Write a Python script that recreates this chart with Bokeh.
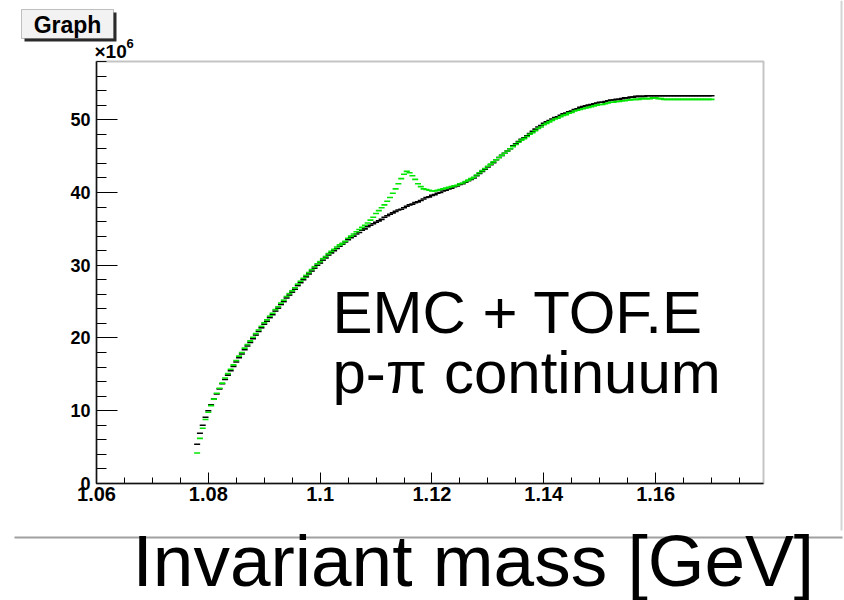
import numpy as np
from bokeh.plotting import figure
from bokeh.models import (Range1d, FixedTicker, Label, BoxAnnotation,
                          NumeralTickFormatter, ColumnDataSource)
from bokeh.embed import file_html
from bokeh.resources import INLINE

# ---------------- data (counts in units of 10^6) ----------------
mass_start = 1.078
mass_step = 0.0005

black_counts = [
    5.4, 6.9, 8.0, 9.1, 10.0, 10.8, 11.6, 12.3, 13.0, 13.7,
    14.3, 14.9, 15.5, 16.1, 16.7, 17.3, 17.8, 18.4, 18.9, 19.4,
    19.9, 20.4, 20.9, 21.4, 21.9, 22.3, 22.8, 23.2, 23.7, 24.1,
    24.6, 25.0, 25.5, 25.9, 26.3, 26.7, 27.2, 27.6, 28.0, 28.4,
    28.8, 29.2, 29.6, 30.0, 30.3, 30.7, 31.0, 31.4, 31.7, 32.0,
    32.3, 32.6, 32.9, 33.2, 33.5, 33.8, 34.0, 34.3, 34.5, 34.8,
    35.0, 35.3, 35.5, 35.7, 35.9, 36.1, 36.3, 36.6, 36.8, 37.0,
    37.2, 37.4, 37.6, 37.7, 37.9, 38.1, 38.3, 38.4, 38.6, 38.7,
    38.9, 39.1, 39.3, 39.4, 39.6, 39.7, 39.9, 40.0, 40.2, 40.3,
    40.5, 40.6, 40.8, 40.9, 41.1, 41.2, 41.4, 41.6, 41.8, 42.0,
    42.3, 42.6, 42.9, 43.2, 43.5, 43.8, 44.1, 44.5, 44.8, 45.1,
    45.4, 45.7, 46.0, 46.4, 46.7, 47.0, 47.3, 47.5, 47.8, 48.1,
    48.4, 48.7, 49.0, 49.2, 49.5, 49.7, 49.9, 50.1, 50.3, 50.4,
    50.6, 50.8, 50.9, 51.1, 51.2, 51.4, 51.5, 51.7, 51.8, 51.9,
    52.0, 52.1, 52.2, 52.3, 52.4, 52.4, 52.5, 52.6, 52.7, 52.7,
    52.8, 52.8, 52.9, 53.0, 53.0, 53.1, 53.1, 53.2, 53.2, 53.2,
    53.2, 53.3, 53.3, 53.3, 53.3, 53.3, 53.3, 53.3, 53.3, 53.3,
    53.3, 53.3, 53.3, 53.3, 53.3, 53.3, 53.3, 53.3, 53.3, 53.3,
    53.3, 53.3, 53.3, 53.3, 53.3,
]

green_counts = [
    4.2, 6.2, 7.6, 8.8, 9.8, 10.7, 11.6, 12.4, 13.1, 13.8,
    14.5, 15.1, 15.7, 16.3, 16.9, 17.5, 18.0, 18.6, 19.1, 19.6,
    20.1, 20.6, 21.1, 21.6, 22.1, 22.5, 23.0, 23.4, 23.9, 24.3,
    24.8, 25.2, 25.7, 26.1, 26.5, 26.9, 27.4, 27.8, 28.2, 28.6,
    29.0, 29.4, 29.8, 30.2, 30.5, 30.9, 31.2, 31.6, 31.9, 32.2,
    32.5, 32.8, 33.0, 33.3, 33.7, 34.0, 34.3, 34.6, 34.9, 35.2,
    35.5, 35.8, 36.2, 36.6, 37.1, 37.5, 37.9, 38.3, 38.8, 39.3,
    39.9, 40.5, 41.2, 41.9, 42.5, 42.9, 42.7, 42.3, 41.8, 41.2,
    40.8, 40.5, 40.4, 40.3, 40.2, 40.2, 40.3, 40.4, 40.5, 40.6,
    40.7, 40.8, 40.9, 41.0, 41.2, 41.3, 41.5, 41.7, 41.9, 42.1,
    42.4, 42.7, 43.0, 43.3, 43.6, 43.9, 44.2, 44.5, 44.8, 45.1,
    45.4, 45.7, 46.0, 46.3, 46.6, 46.9, 47.2, 47.4, 47.7, 48.0,
    48.2, 48.5, 48.8, 49.0, 49.3, 49.5, 49.7, 49.9, 50.1, 50.2,
    50.4, 50.6, 50.7, 50.9, 51.0, 51.2, 51.3, 51.4, 51.5, 51.6,
    51.7, 51.8, 51.9, 52.0, 52.1, 52.1, 52.2, 52.3, 52.4, 52.4,
    52.5, 52.5, 52.6, 52.6, 52.7, 52.7, 52.8, 52.8, 52.8, 52.9,
    52.9, 52.9, 52.9, 53.0, 53.0, 52.9, 52.9, 52.8, 52.8, 52.8,
    52.8, 52.8, 52.8, 52.8, 52.8, 52.8, 52.8, 52.8, 52.8, 52.8,
    52.8, 52.8, 52.8, 52.8, 52.8,
]

x_min, x_max = 1.06, 1.1793      # axis extent (GeV)
y_min, y_max = 0.0, 58.0         # axis extent (10^6)
x_major_ticks = [1.06, 1.08, 1.10, 1.12, 1.14, 1.16]
y_major_ticks = [0, 10, 20, 30, 40, 50]

# ---------------- layout geometry (canvas pixels) ----------------
W, H = 844, 600
AX_L, AX_R, AX_T, AX_B = 96, 763, 61, 483   # where the axes box sits
kx = (AX_R - AX_L) / (x_max - x_min)
ky = (AX_B - AX_T) / (y_max - y_min)
xr = Range1d(x_min - AX_L / kx, x_max + (W - AX_R) / kx)
yr = Range1d(y_min - (H - AX_B) / ky, y_max + AX_T / ky)

p = figure(width=W, height=H, output_backend="svg", toolbar_location=None,
           x_range=xr, y_range=yr, min_border=0,
           background_fill_color="white", border_fill_color="white")
p.grid.visible = False
p.outline_line_color = None

# frame box (top / right edges visible, left / bottom covered by axes)
p.add_layout(BoxAnnotation(left=x_min, right=x_max, bottom=y_min, top=y_max,
                           fill_alpha=0, line_color="#3a3a3a", line_width=2))

mass_b = np.round(mass_start + mass_step * np.arange(len(black_counts)), 5)
mass_g = np.round(mass_start + mass_step * np.arange(len(green_counts)), 5)
src_b = ColumnDataSource(dict(x=mass_b, y=black_counts))
src_g = ColumnDataSource(dict(x=mass_g, y=green_counts))

p.scatter("x", "y", source=src_b, marker="dash", size=6, line_color="black",
          line_width=1.6)
p.scatter("x", "y", source=src_g, marker="dash", size=6, line_color="#00e600",
          line_width=1.6)

# axes (pinned at the axes box edges)
FONT = "Liberation Sans"
xa = p.xaxis[0]
xa.fixed_location = y_min
xa.bounds = (x_min, x_max)
xa.ticker = FixedTicker(ticks=x_major_ticks,
                        minor_ticks=[round(1.06 + 0.005 * i, 4) for i in range(24)])
xa.formatter = NumeralTickFormatter(format="0.[00]")
xa.major_tick_in = 11
xa.major_tick_out = 0
xa.minor_tick_in = 6
xa.minor_tick_out = 0
xa.axis_line_color = "black"
xa.axis_line_width = 1.5
xa.major_tick_line_color = "black"
xa.minor_tick_line_color = "black"
xa.major_label_text_font = FONT
xa.major_label_text_font_style = "bold"
xa.major_label_text_font_size = "20px"
xa.major_label_text_color = "black"
xa.major_label_standoff = 3

ya = p.yaxis[0]
ya.fixed_location = x_min
ya.bounds = (y_min, y_max)
ya.ticker = FixedTicker(ticks=y_major_ticks, minor_ticks=list(range(0, 59, 2)))
ya.major_tick_in = 21
ya.major_tick_out = 0
ya.minor_tick_in = 10
ya.minor_tick_out = 0
ya.axis_line_color = "black"
ya.axis_line_width = 1.5
ya.major_tick_line_color = "black"
ya.minor_tick_line_color = "black"
ya.major_label_text_font = FONT
ya.major_label_text_font_style = "bold"
ya.major_label_text_font_size = "18px"
ya.major_label_text_color = "black"
ya.major_label_standoff = 6


def box(l, t, r, b, **kw):
    return BoxAnnotation(left=l, right=r, top=H - t, bottom=H - b,
                         left_units="screen", right_units="screen",
                         top_units="screen", bottom_units="screen", **kw)


def label(cx, baseline, text, size, **kw):
    # place by the text's baseline (canvas px), using the "middle" anchor
    cy = baseline - 0.3465 * size
    return Label(x=cx, y=H - cy, x_units="screen", y_units="screen",
                 text=text, text_font=FONT, text_color="black",
                 text_font_size=f"{size}px", text_baseline="middle", **kw)


# canvas border lines (light gray)
p.add_layout(box(14, 536, 842, 538, fill_color="#a0a0a0", fill_alpha=1, line_alpha=0))
p.add_layout(box(840, 0, 842, 530, fill_color="#d4d4d4", fill_alpha=1, line_alpha=0))

# "Graph" title box with shadow
p.add_layout(box(24, 12, 116, 41, fill_color="#2a2a2a", fill_alpha=1, line_alpha=0))
p.add_layout(box(21, 9, 113, 38, fill_color="#f2f2f2", fill_alpha=1,
                 line_color="#3a3a3a", line_width=1))
p.add_layout(label(67, 32, "Graph", 23, text_font_style="bold", text_align="center"))

# x10^6 multiplier
p.add_layout(label(94, 58, "×10", 19, text_font_style="bold"))
p.add_layout(label(126, 48, "6", 13, text_font_style="bold"))

# annotations inside the frame
p.add_layout(label(332, 333, "EMC + TOF.E", 60))
p.add_layout(label(332, 393, "p-π continuum", 60))

# x-axis title
p.add_layout(label(132, 585, "Invariant mass [GeV]", 73))

open("out.html", "w").write(file_html(p, INLINE))
